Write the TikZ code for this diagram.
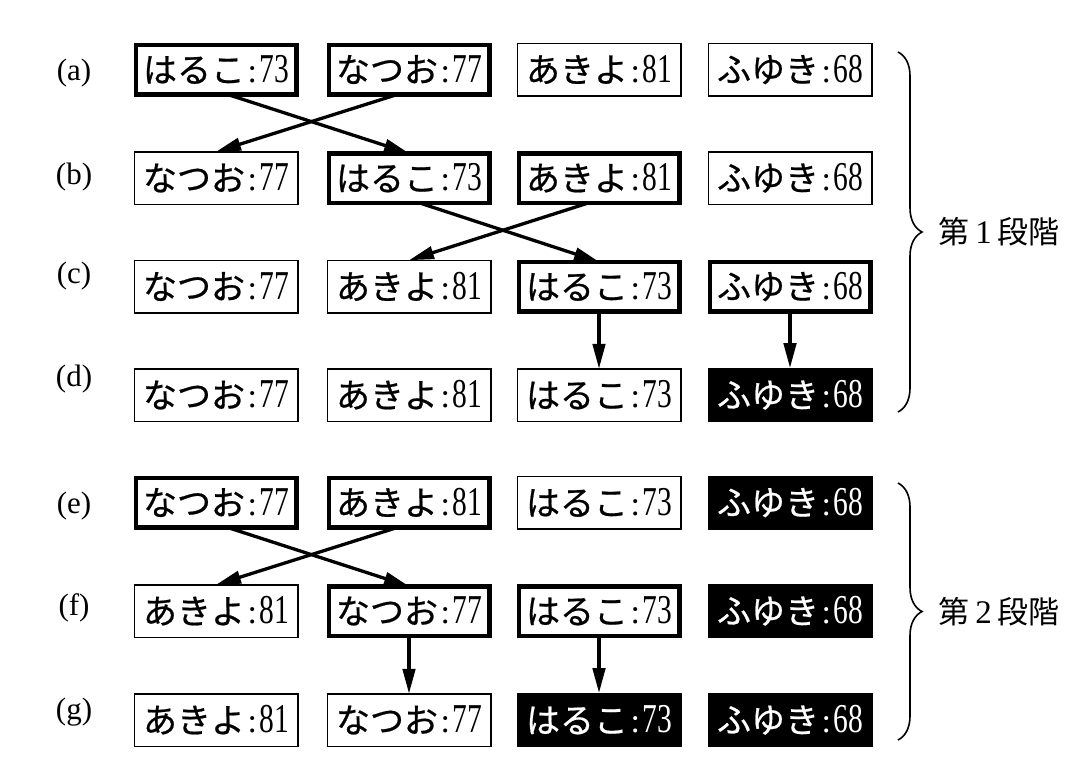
\documentclass[tikz,border=0pt]{standalone}
\usepackage{fontspec}
\usepackage{graphicx}
\newfontfamily\kanafont[FakeBold=0.6]{Noto Sans CJK JP}
\newfontfamily\cjkfont{Noto Sans CJK JP}
\newfontfamily\digfont{Liberation Serif}
\usetikzlibrary{arrows.meta,decorations.pathreplacing}
\newcommand{\entry}[2]{{\kanafont\fontsize{34}{34}\selectfont #1}{\digfont\fontsize{34}{34}\selectfont\kern2.5pt:\kern2.5pt}{\digfont\fontsize{41}{41}\selectfont\scalebox{0.72}[1]{#2}}}
\newcommand{\stage}[1]{{\cjkfont\fontsize{31}{31}\selectfont 第}\hspace{6pt}{\digfont\fontsize{33}{33}\selectfont #1}\hspace{6pt}{\cjkfont\fontsize{31}{31}\selectfont 段階}}
\tikzset{
  cell/.style={inner sep=0pt, outer sep=0pt, anchor=center},
  thin/.style={cell, draw, line width=1.5pt, minimum width=163.5pt, minimum height=52.5pt},
  thick/.style={cell, draw, line width=4.5pt, minimum width=160.5pt, minimum height=49.5pt},
  blk/.style={cell, fill=black, text=white, minimum width=165pt, minimum height=54pt},
  lab/.style={inner sep=0pt, font=\digfont\fontsize{31}{31}\selectfont},
  arr/.style={line width=3.3pt, -{Triangle[length=25pt,width=12.5pt]}},
  brc/.style={line width=1.6pt, decorate, decoration={brace, amplitude=24pt}},
  stg/.style={inner sep=0pt}
}
\begin{document}
\begin{tikzpicture}[x=1pt,y=-1pt]
\useasboundingbox (0,0) rectangle (1086,766);
\fill[white] (0,0) rectangle (1086,766);
% row labels
\node[lab] (la) at (74,73) {(a)};
\node[lab] (lb) at (74,177) {(b)};
\node[lab] (lc) at (74,276) {(c)};
\node[lab] (ld) at (74,379) {(d)};
\node[lab] (le) at (74,506) {(e)};
\node[lab] (lf) at (74,608) {(f)};
\node[lab] (lg) at (74,712) {(g)};
% row a
\node[thick] (a1) at (216,69.5) {\entry{はるこ}{73}};
\node[thick] (a2) at (409,69.5) {\entry{なつお}{77}};
\node[thin]  (a3) at (599,69.5) {\entry{あきよ}{81}};
\node[thin]  (a4) at (790,69.5) {\entry{ふゆき}{68}};
% row b
\node[thin]  (b1) at (216,178) {\entry{なつお}{77}};
\node[thick] (b2) at (409,178) {\entry{はるこ}{73}};
\node[thick] (b3) at (599,178) {\entry{あきよ}{81}};
\node[thin]  (b4) at (790,178) {\entry{ふゆき}{68}};
% row c
\node[thin]  (c1) at (216,286.5) {\entry{なつお}{77}};
\node[thin]  (c2) at (409,286.5) {\entry{あきよ}{81}};
\node[thick] (c3) at (599,286.5) {\entry{はるこ}{73}};
\node[thick] (c4) at (790,286.5) {\entry{ふゆき}{68}};
% row d
\node[thin]  (d1) at (216,395) {\entry{なつお}{77}};
\node[thin]  (d2) at (409,395) {\entry{あきよ}{81}};
\node[thin]  (d3) at (599,395) {\entry{はるこ}{73}};
\node[blk]   (d4) at (790,395) {\entry{ふゆき}{68}};
% row e
\node[thick] (e1) at (216,502.5) {\entry{なつお}{77}};
\node[thick] (e2) at (409,502.5) {\entry{あきよ}{81}};
\node[thin]  (e3) at (599,502.5) {\entry{はるこ}{73}};
\node[blk]   (e4) at (790,502.5) {\entry{ふゆき}{68}};
% row f
\node[thin]  (f1) at (216,611) {\entry{あきよ}{81}};
\node[thick] (f2) at (409,611) {\entry{なつお}{77}};
\node[thick] (f3) at (599,611) {\entry{はるこ}{73}};
\node[blk]   (f4) at (790,611) {\entry{ふゆき}{68}};
% row g
\node[thin]  (g1) at (216,720) {\entry{あきよ}{81}};
\node[thin]  (g2) at (409,720) {\entry{なつお}{77}};
\node[blk]   (g3) at (599,720) {\entry{はるこ}{73}};
\node[blk]   (g4) at (790,720) {\entry{ふゆき}{68}};
% arrows
\draw[arr] ([xshift=11pt]a1.south) -- (b2.north);
\draw[arr] ([xshift=-11pt]a2.south) -- (b1.north);
\draw[arr] ([xshift=10pt]b2.south) -- (c3.north);
\draw[arr] ([xshift=-10pt]b3.south) -- (c2.north);
\draw[arr] (c3.south) -- (d3.north);
\draw[arr] (c4.south) -- (d4.north);
\draw[arr] ([xshift=11pt]e1.south) -- (f2.north);
\draw[arr] ([xshift=-11pt]e2.south) -- (f1.north);
\draw[arr] (f2.south) -- (g2.north);
\draw[arr] (f3.south) -- (g3.north);
% braces
\coordinate (br1t) at (898,52);
\coordinate (br1b) at (898,412);
\coordinate (br2t) at (898,483);
\coordinate (br2b) at (898,740);
\draw[brc] (br1t) -- (br1b);
\draw[brc] (br2t) -- (br2b);
\node[stg] (s1) at (999,232) {\stage{1}};
\node[stg] (s2) at (999,612) {\stage{2}};
\end{tikzpicture}
\end{document}
